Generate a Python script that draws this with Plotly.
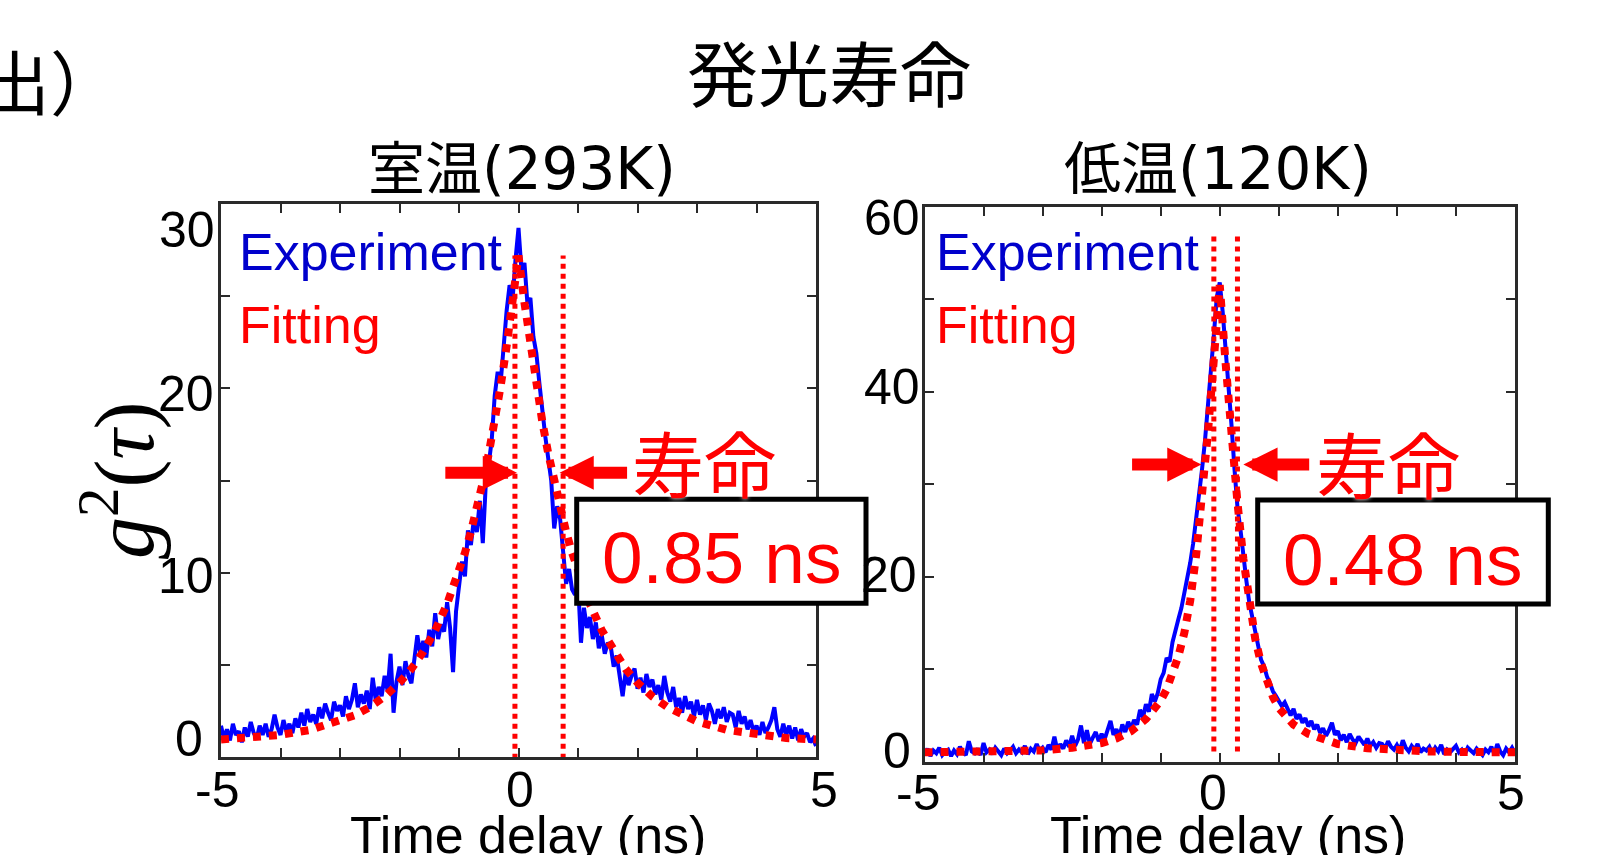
import numpy as np
import plotly.graph_objects as go

W, H = 1603, 855

# ---------------- data ----------------
time_ns = np.round(np.arange(-5.0, 5.0001, 0.05), 2)   # 0.05 ns bins

exp_293K = [
    1.7, 1.0, 1.5, 0.9, 1.8, 1.2, 1.4, 0.8, 1.6, 1.1,
    1.9, 1.3, 1.0, 1.7, 1.2, 1.8, 1.1, 1.5, 2.3, 1.6,
    1.2, 2.0, 1.4, 1.8, 1.3, 2.1, 1.6, 2.4, 1.7, 2.6,
    1.9, 2.3, 1.8, 2.7, 2.1, 2.9, 2.4, 2.0, 3.0, 2.5,
    2.8, 2.2, 3.3, 2.6, 3.1, 4.0, 2.7, 3.4, 2.9, 3.6,
    2.6, 4.3, 3.1, 3.8, 3.3, 4.4, 3.6, 5.6, 2.4, 4.1,
    4.9, 3.9, 5.2, 4.4, 4.0, 5.5, 6.6, 5.6, 6.3, 5.4,
    6.9, 6.0, 7.8, 6.4, 7.2, 6.8, 8.4, 7.0, 4.6, 7.9,
    9.1, 10.6, 9.8, 12.3, 11.5, 12.9, 12.2, 13.9, 11.6, 14.8,
    15.9, 17.2, 19.6, 20.9, 20.3, 22.4, 24.2, 25.6, 24.8, 27.0,
    28.7, 26.4, 26.8, 24.6, 24.9, 22.8, 21.9, 20.3, 18.6, 17.4,
    16.2, 15.0, 12.4, 13.6, 12.9, 10.8, 9.4, 10.2, 9.1, 8.8,
    9.5, 6.2, 8.1, 7.0, 7.6, 6.4, 7.3, 5.9, 6.6, 5.6,
    6.2, 6.0, 4.9, 5.5, 4.3, 3.3, 4.6, 3.9, 4.4, 4.8,
    3.7, 4.3, 3.5, 4.5, 3.8, 4.2, 3.4, 3.9, 3.1, 4.4,
    3.5, 3.0, 3.8, 2.7, 3.2, 2.4, 3.3, 2.6, 3.0, 2.2,
    3.1, 2.3, 2.8, 2.0, 2.9, 2.5, 1.8, 2.6, 2.1, 2.7,
    1.9, 2.4, 2.3, 1.6, 2.5, 1.8, 2.2, 1.5, 2.0, 1.4,
    1.7, 1.2, 1.9, 1.3, 1.6, 2.0, 2.7, 1.5, 1.1, 1.8,
    1.2, 1.7, 1.0, 1.6, 0.9, 1.5, 1.1, 1.3, 0.8, 1.0,
    0.6,
]

fit_293K_t = [-5, -4.5, -4, -3.5, -3, -2.75, -2.5, -2.25, -2, -1.8, -1.6, -1.4, -1.2, -1,
              -0.9, -0.8, -0.7, -0.6, -0.5, -0.4, -0.3, -0.2, -0.1, 0, 0.1, 0.2, 0.3, 0.4,
              0.5, 0.6, 0.7, 0.8, 0.9, 1, 1.2, 1.4, 1.6, 1.8, 2, 2.25, 2.5, 2.75, 3, 3.5,
              4, 4.5, 5]
fit_293K = [0.95, 1.03, 1.2, 1.47, 1.93, 2.27, 2.71, 3.28, 4.03, 4.78, 5.72, 6.87, 8.3, 10.05,
            11.08, 12.22, 13.48, 14.89, 16.46, 18.19, 20.12, 22.27, 24.65, 27.2, 24.65, 22.27,
            20.12, 18.19, 16.46, 14.89, 13.48, 12.22, 11.08, 10.05, 8.3, 6.87, 5.72, 4.78,
            4.03, 3.28, 2.71, 2.27, 1.93, 1.47, 1.2, 1.03, 0.95]

exp_120K = [
    0.8, 1.4, 0.6, 1.2, 0.9, 1.5, 0.7, 1.1, 1.3, 0.6,
    1.2, 0.8, 1.6, 1.0, 0.7, 2.2, 1.1, 0.9, 1.4, 0.7,
    2.0, 1.0, 1.3, 0.8, 1.5, 1.1, 0.7, 1.4, 0.9, 1.2,
    1.6, 0.9, 1.3, 1.0, 1.7, 0.8, 1.4, 1.1, 1.9, 1.2,
    1.5, 1.0, 1.8, 1.3, 2.7, 1.2, 1.9, 1.4, 2.3, 1.6,
    2.8, 1.7, 2.4, 3.9, 2.0, 3.4, 1.9, 2.6, 3.2, 2.2,
    3.0, 2.4, 3.6, 4.4, 2.9, 3.5, 2.7, 4.0, 3.2, 4.3,
    3.6, 4.5, 4.0, 5.6, 4.8, 6.2, 5.4, 7.3, 6.5, 7.4,
    8.9, 9.6, 11.2, 10.8, 12.9, 14.0, 15.4, 16.6, 18.2, 19.4,
    21.5, 23.6, 26.0, 28.8, 31.6, 34.7, 38.2, 42.0, 46.1, 50.2,
    51.8, 48.6, 44.8, 40.4, 36.3, 31.6, 27.5, 25.1, 21.8, 19.6,
    17.2, 15.6, 13.8, 12.4, 11.0, 10.3, 9.2, 8.5, 7.6, 7.1,
    6.6, 6.0, 6.4, 5.6, 5.0, 5.7, 4.6, 5.1, 4.2, 4.7,
    3.8, 4.4, 3.5, 4.0, 3.1, 3.6, 2.8, 3.4, 4.2, 2.9,
    3.3, 2.3, 2.9, 2.1, 3.0, 2.4, 2.0, 2.7, 2.2, 1.8,
    2.5, 1.7, 2.1, 1.5, 2.0, 1.9, 1.4, 2.2, 1.6, 1.3,
    1.8, 1.2, 2.3, 1.5, 1.1, 1.7, 1.3, 1.9, 1.0, 1.4,
    1.2, 1.6, 0.9, 1.5, 1.1, 1.8, 0.8, 1.3, 1.0, 1.4,
    1.7, 1.0, 1.3, 0.8, 1.5, 1.2, 0.9, 1.4, 1.1, 0.7,
    1.3, 1.0, 1.6, 0.8, 1.9, 1.1, 0.7, 1.4, 1.0, 1.5,
    0.9,
]

fit_120K_t = [-5, -4.5, -4, -3.5, -3, -2.5, -2, -1.75, -1.5, -1.25, -1, -0.9, -0.8, -0.7,
              -0.6, -0.5, -0.4, -0.3, -0.2, -0.1, 0, 0.1, 0.2, 0.3, 0.4, 0.5, 0.6, 0.7, 0.8,
              0.9, 1, 1.25, 1.5, 1.75, 2, 2.5, 3, 3.5, 4, 4.5, 5]
fit_120K = [1.0, 1.0, 1.05, 1.1, 1.2, 1.5, 2.0, 2.5, 3.3, 4.6, 6.6, 7.8, 9.4, 11.4, 13.9,
            17.4, 22.3, 28.5, 35.6, 43.5, 51.5, 43.0, 35.0, 28.0, 21.9, 17.0, 13.3, 10.6,
            8.6, 7.0, 5.8, 4.0, 3.0, 2.4, 1.9, 1.45, 1.2, 1.1, 1.05, 1.0, 1.0]

assert len(exp_293K) == len(time_ns) == len(exp_120K)

# lifetime marker lines (ns) and their vertical extent
marks_293K = [-0.06, 0.75]
marks_293K_y = [-0.1, 27.2]
marks_120K = [-0.10, 0.30]
marks_120K_y = [1.1, 57.1]

# arrows: [left tail, left tip, right tip, right tail] and height
arrows_293K_x = [-1.255, -0.026, 0.69, 1.85]
arrows_293K_y = 15.42
arrows_120K_x = [-1.51, -0.31, 0.40, 1.54]
arrows_120K_y = 32.1

lifetimes = ["0.85 ns", "0.48 ns"]
panel_titles = [("室温", "(293K)"), ("低温", "(120K)")]
main_title = "発光寿命"
x_ticks = [-5, -4, -3, -2, -1, 0, 1, 2, 3, 4, 5]
x_labels = [-5, 0, 5]
y_ticks_293K = [0, 5, 10, 15, 20, 25, 30]
y_labels_293K = [0, 10, 20, 30]
y_ticks_120K = [0, 10, 20, 30, 40, 50, 60]
y_labels_120K = [0, 20, 40, 60]

# ---------------- styling ----------------
BLUE_LINE = "#0000FF"
BLUE_TXT = "#0000CC"
RED = "#FF0000"
AX = "#2a2a2a"
SANS = "Liberation Sans, Arial, sans-serif"
CJK = "Noto Sans CJK JP"


def px(x):
    return x / W


def py(y):
    return 1 - y / H


fig = go.Figure()

# data traces
fig.add_trace(go.Scatter(x=time_ns, y=exp_293K, mode="lines", line=dict(color=BLUE_LINE, width=4),
                         xaxis="x", yaxis="y", showlegend=False))
fig.add_trace(go.Scatter(x=fit_293K_t, y=fit_293K, mode="lines", line=dict(color=RED, width=8, dash="dot"),
                         xaxis="x", yaxis="y", showlegend=False))
for m in marks_293K:
    fig.add_trace(go.Scatter(x=[m, m], y=marks_293K_y, mode="lines", line=dict(color=RED, width=5, dash="dot"),
                             xaxis="x", yaxis="y", showlegend=False))

fig.add_trace(go.Scatter(x=time_ns, y=exp_120K, mode="lines", line=dict(color=BLUE_LINE, width=4),
                         xaxis="x2", yaxis="y2", showlegend=False))
fig.add_trace(go.Scatter(x=fit_120K_t, y=fit_120K, mode="lines", line=dict(color=RED, width=8, dash="dot"),
                         xaxis="x2", yaxis="y2", showlegend=False))
for m in marks_120K:
    fig.add_trace(go.Scatter(x=[m, m], y=marks_120K_y, mode="lines", line=dict(color=RED, width=5, dash="dot"),
                             xaxis="x2", yaxis="y2", showlegend=False))

# axes (pixel boxes of the two panels)
dom = {
    "L": dict(x=[221, 816], y=[204, 757]),
    "R": dict(x=[924.5, 1515], y=[206.5, 761.6]),
}


def xax(d):
    return dict(domain=[px(d["x"][0]), px(d["x"][1])], range=[-5, 5], tickmode="array",
                tickvals=x_ticks, showticklabels=False, ticks="inside", ticklen=9, tickwidth=2,
                tickcolor=AX, showline=True, linecolor=AX, linewidth=3, mirror="ticks",
                showgrid=False, zeroline=False, automargin=False)


def yax(d, rng, tv):
    return dict(domain=[py(d["y"][1]), py(d["y"][0])], range=rng, tickmode="array", tickvals=tv,
                showticklabels=False, ticks="inside", ticklen=9, tickwidth=2, tickcolor=AX,
                showline=True, linecolor=AX, linewidth=3, mirror="ticks", showgrid=False,
                zeroline=False, automargin=False)


ann = []

# y tick labels placed next to the axis
ylab_specs = [
    ("y", y_labels_293K, dom["L"], [16.5, 5, 5, 4], [18, -3, -6, -26]),
    ("y2", y_labels_120K, dom["R"], [12, 5.5, 3, 3], [10.6, 1.6, 4.5, -11.5]),
]
for yr, labs, d, offs, shifts in ylab_specs:
    for v, o, s in zip(labs, offs, shifts):
        ann.append(dict(text=str(v), xref="paper", x=px(d["x"][0] - o), xanchor="right",
                        yref=yr, y=v, yanchor="middle", yshift=s, showarrow=False,
                        font=dict(family=SANS, size=50, color="black")))

# x tick labels below the axis
xlab_specs = [
    ("x", 790, [-4, 1, 8]),
    ("x2", 793, [-6.5, -7, -4]),
]
for xr, cy, shifts in xlab_specs:
    for v, s in zip(x_labels, shifts):
        ann.append(dict(text=str(v), xref=xr, x=v, xshift=s, xanchor="center",
                        yref="paper", y=py(cy), yanchor="middle", showarrow=False,
                        font=dict(family=SANS, size=50, color="black")))

# x axis titles
for cx in [528, 1228]:
    ann.append(dict(text="Time delay (ns)", xref="paper", yref="paper", x=px(cx), y=py(804),
                    xanchor="center", yanchor="top", showarrow=False,
                    font=dict(family=SANS, size=52, color="black")))

# y axis title
ann.append(dict(text="<i>g</i><sup>2</sup>(<i>τ</i>)", xref="paper", yref="paper", x=px(119), y=py(481),
                xanchor="center", yanchor="middle", textangle=-90, showarrow=False,
                font=dict(family="Liberation Serif, Times New Roman, serif", size=84, color="black")))

# main title and cut-off label
ann.append(dict(text=main_title, xref="paper", yref="paper", x=px(828.5), y=py(70),
                xanchor="center", yanchor="middle", showarrow=False,
                font=dict(family=CJK, size=71, color="black")))
ann.append(dict(text="出）", xref="paper", yref="paper", x=px(122), y=py(79),
                xanchor="right", yanchor="middle", showarrow=False,
                font=dict(family=CJK, size=70, color="black")))

# panel titles
for (cj, lat), cx in zip(panel_titles, [522, 1218]):
    ann.append(dict(text="<span style='font-family:Noto Sans CJK JP;font-size:57px'>" + cj + "</span>" + lat,
                    xref="paper", yref="paper", x=px(cx), y=py(163.5), xanchor="center",
                    yanchor="middle", showarrow=False,
                    font=dict(family="DejaVu Sans", size=58, color="black")))

# legend-like labels
for lx in [237, 934]:
    ann.append(dict(text="Experiment", xref="paper", yref="paper", x=px(lx), y=py(252.5),
                    xanchor="left", yanchor="middle", showarrow=False,
                    font=dict(family=SANS, size=52, color=BLUE_TXT)))
    ann.append(dict(text="Fitting", xref="paper", yref="paper", x=px(lx), y=py(325),
                    xanchor="left", yanchor="middle", showarrow=False,
                    font=dict(family=SANS, size=52, color=RED)))

# 寿命 labels
for cx, cy in [(704, 460), (1387.5, 461.5)]:
    ann.append(dict(text="寿命", xref="paper", yref="paper", x=px(cx), y=py(cy),
                    xanchor="center", yanchor="middle", showarrow=False,
                    font=dict(family=CJK, size=72, color=RED, shadow="0px 0px 4px white")))

# lifetime value boxes
boxes = [(576.7, 866, 499.3, 603.3), (1257.7, 1548.3, 500, 604)]
shapes = []
for (x0, x1, y0, y1) in boxes:
    shapes.append(dict(type="rect", xref="paper", yref="paper", x0=px(x0), x1=px(x1), y0=py(y1), y1=py(y0),
                       line=dict(color="black", width=5), fillcolor="white", layer="above"))
for txt, (cx, cy) in zip(lifetimes, [(721, 557.5), (1402.5, 559)]):
    ann.append(dict(text=txt, xref="paper", yref="paper", x=px(cx), y=py(cy), xanchor="center",
                    yanchor="middle", showarrow=False,
                    font=dict(family=SANS, size=73, color=RED)))

# arrows
for xr, yr, xs, yy in [("x", "y", arrows_293K_x, arrows_293K_y), ("x2", "y2", arrows_120K_x, arrows_120K_y)]:
    for tail, tip in [(xs[0], xs[1]), (xs[3], xs[2])]:
        ann.append(dict(text="", x=tip, y=yy, ax=tail, ay=yy, xref=xr, yref=yr, axref=xr, ayref=yr,
                        showarrow=True, arrowhead=2, arrowsize=0.57, arrowwidth=12, arrowcolor=RED))

fig.update_layout(
    width=W, height=H, autosize=False, margin=dict(l=0, r=0, t=0, b=0, pad=0),
    paper_bgcolor="white", plot_bgcolor="white", showlegend=False,
    xaxis=xax(dom["L"]), yaxis=yax(dom["L"], [0, 30], y_ticks_293K),
    xaxis2=dict(xax(dom["R"]), anchor="y2"), yaxis2=dict(yax(dom["R"], [0, 60], y_ticks_120K), anchor="x2"),
    annotations=ann, shapes=shapes,
)

fig.write_html("out.html")
